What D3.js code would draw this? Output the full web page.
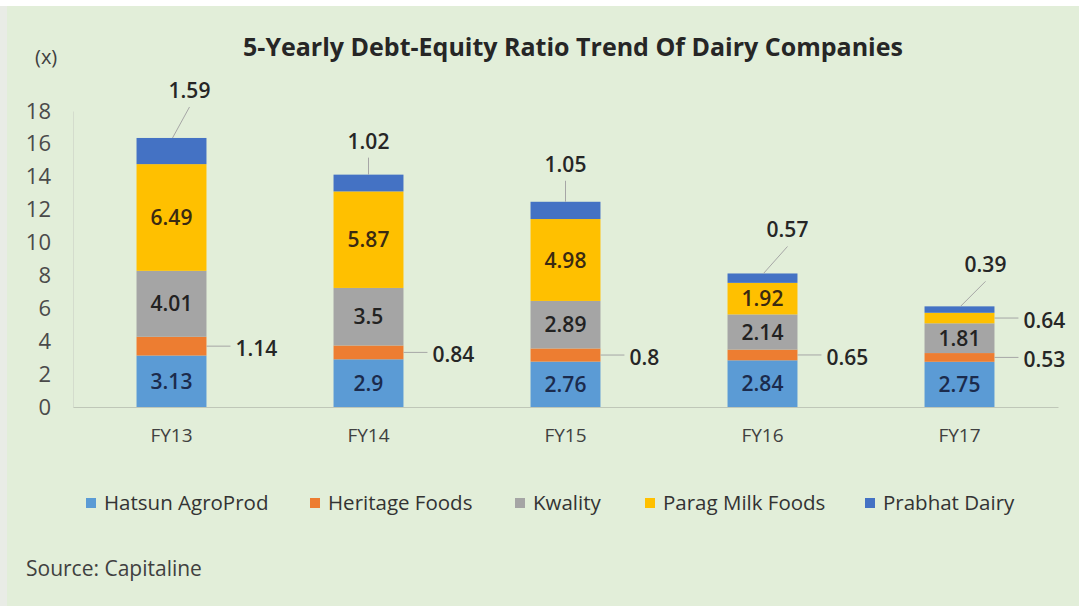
<!DOCTYPE html>
<html>
<head>
<meta charset="utf-8">
<script src="https://cdn.jsdelivr.net/npm/d3@7"></script>
<style>
  html, body { margin: 0; padding: 0; background: #fff; }
  svg text { font-family: "Open Sans", "Noto Sans", sans-serif; }
</style>
</head>
<body>
<div id="chart"></div>
<script>
// Chart data
const years = ['FY13', 'FY14', 'FY15', 'FY16', 'FY17'];
const companies = ['Hatsun AgroProd', 'Heritage Foods', 'Kwality', 'Parag Milk Foods', 'Prabhat Dairy'];
const hatsun   = [3.13, 2.9, 2.76, 2.84, 2.75];
const heritage = [1.14, 0.84, 0.8, 0.65, 0.53];
const kwality  = [4.01, 3.5, 2.89, 2.14, 1.81];
const parag    = [6.49, 5.87, 4.98, 1.92, 0.64];
const prabhat  = [1.59, 1.02, 1.05, 0.57, 0.39];
const yTicks   = [0, 2, 4, 6, 8, 10, 12, 14, 16, 18];

const colors = ['#5b9bd5', '#ed7d31', '#a5a5a5', '#ffc000', '#4472c4'];

const W = 1079, H = 606;
const margin = { top: 111, right: 21, bottom: 199, left: 73 };
const width = W - margin.left - margin.right;
const height = H - margin.top - margin.bottom;

const svg = d3.select('#chart').append('svg')
    .attr('width', W)
    .attr('height', H);

// frame
svg.append('rect').attr('width', W).attr('height', H).attr('fill', '#ffffff');
svg.append('rect').attr('x', 0).attr('y', 6).attr('width', 7).attr('height', H - 6).attr('fill', '#e9ece6');
svg.append('rect').attr('x', 7).attr('y', 6).attr('width', W - 7).attr('height', H - 6).attr('fill', '#e2eed9');

const g = svg.append('g').attr('transform', `translate(${margin.left},${margin.top})`);

// build stacked table
const rows = years.map((y, i) => ({
    year: y,
    'Hatsun AgroProd': hatsun[i],
    'Heritage Foods': heritage[i],
    'Kwality': kwality[i],
    'Parag Milk Foods': parag[i],
    'Prabhat Dairy': prabhat[i]
}));
const stack = d3.stack().keys(companies)(rows);

const x = d3.scaleBand().domain(years).range([0, width]).paddingInner(0.645).paddingOuter(0.3225);
const y = d3.scaleLinear().domain([0, 18]).range([height, 0]);

// axes
const yAxis = g.append('g').call(d3.axisLeft(y).tickValues(yTicks).tickSize(0).tickPadding(22));
yAxis.select('.domain').attr('stroke', '#d4dccd').attr('stroke-width', 1);
yAxis.attr('font-size', 22);
yAxis.selectAll('text').attr('font-size', 22).attr('fill', '#4a4a4a')
    .style('font-family', '"Open Sans", sans-serif');

const xAxis = g.append('g').attr('transform', `translate(0,${height})`)
    .call(d3.axisBottom(x).tickSize(0).tickPadding(22));
xAxis.select('.domain').attr('stroke', '#bfc7b8').attr('stroke-width', 1.2);
xAxis.attr('font-size', 19);
xAxis.selectAll('text').attr('font-size', 19).attr('fill', '#404040')
    .style('font-family', '"Open Sans", sans-serif');

// bars
const layers = g.selectAll('.layer').data(stack).enter().append('g')
    .attr('fill', (d, i) => colors[i]);
layers.selectAll('rect').data(d => d).enter().append('rect')
    .attr('x', d => x(d.data.year))
    .attr('y', d => y(d[1]))
    .attr('width', x.bandwidth())
    .attr('height', d => y(d[0]) - y(d[1]));

// inside labels (Hatsun, Kwality, Parag where bar is tall enough)
const insideColor = { 'Hatsun AgroProd': '#1b2b4d', 'Kwality': '#222222', 'Parag Milk Foods': '#3a2a12' };
stack.forEach((layer, li) => {
    const key = layer.key;
    layer.forEach((d, i) => {
        const v = d.data[key];
        const cx = x(d.data.year) + x.bandwidth() / 2;
        const inside = (key === 'Hatsun AgroProd' || key === 'Kwality' || (key === 'Parag Milk Foods' && v > 1));
        if (inside) {
            g.append('text')
                .attr('x', cx)
                .attr('y', (y(d[0]) + y(d[1])) / 2)
                .attr('dy', '0.36em')
                .attr('text-anchor', 'middle')
                .attr('font-size', 21)
                .attr('font-weight', 600)
                .attr('fill', insideColor[key])
                .text(v);
        } else if (key === 'Heritage Foods' || key === 'Parag Milk Foods') {
            // label to the right with short leader
            const ym = (y(d[0]) + y(d[1])) / 2;
            const xr = x(d.data.year) + x.bandwidth();
            g.append('line')
                .attr('x1', xr).attr('x2', xr + 24)
                .attr('y1', ym).attr('y2', ym)
                .attr('stroke', '#a6a6a6').attr('stroke-width', 1);
            g.append('text')
                .attr('x', xr + 29)
                .attr('y', ym + 2)
                .attr('dy', '0.36em')
                .attr('font-size', 21)
                .attr('font-weight', 600)
                .attr('fill', '#262626')
                .text(v);
        }
    });
});

// Prabhat labels above, with leader lines
const prabhatOffset = [[18, -40], [0, -26], [0, -30], [25, -36], [26, -34]];
stack[4].forEach((d, i) => {
    const cx = x(d.data.year) + x.bandwidth() / 2;
    const top = y(d[1]);
    const dx = prabhatOffset[i][0];
    const lx = cx + dx;
    const ly = top + prabhatOffset[i][1];
    g.append('line')
        .attr('x1', lx).attr('y1', ly + 9)
        .attr('x2', dx === 0 ? cx : cx + 1).attr('y2', top)
        .attr('stroke', '#a6a6a6').attr('stroke-width', 1);
    g.append('text')
        .attr('x', lx)
        .attr('y', ly)
        .attr('text-anchor', 'middle')
        .attr('font-size', 21)
        .attr('font-weight', 600)
        .attr('fill', '#262626')
        .text(d.data['Prabhat Dairy']);
});

// title + unit
svg.append('text')
    .attr('x', 573).attr('y', 56)
    .attr('text-anchor', 'middle')
    .attr('font-size', 25)
    .attr('font-weight', 700)
    .attr('fill', '#262626')
    .text('5-Yearly Debt-Equity Ratio Trend Of Dairy Companies');

svg.append('text')
    .attr('x', 35).attr('y', 64)
    .attr('font-size', 20)
    .attr('fill', '#404040')
    .text('(x)');

// legend
const legendX = [86, 310, 515, 645, 865];
const legend = svg.append('g');
companies.forEach((c, i) => {
    legend.append('rect')
        .attr('x', legendX[i]).attr('y', 498)
        .attr('width', 10).attr('height', 10)
        .attr('fill', colors[i]);
    legend.append('text')
        .attr('x', legendX[i] + 18).attr('y', 503)
        .attr('dy', '0.36em')
        .attr('font-size', 20.5)
        .attr('fill', '#333333')
        .text(c);
});

// source
svg.append('text')
    .attr('x', 26).attr('y', 576)
    .attr('font-size', 21)
    .attr('fill', '#404040')
    .text('Source: Capitaline');
</script>
</body>
</html>
